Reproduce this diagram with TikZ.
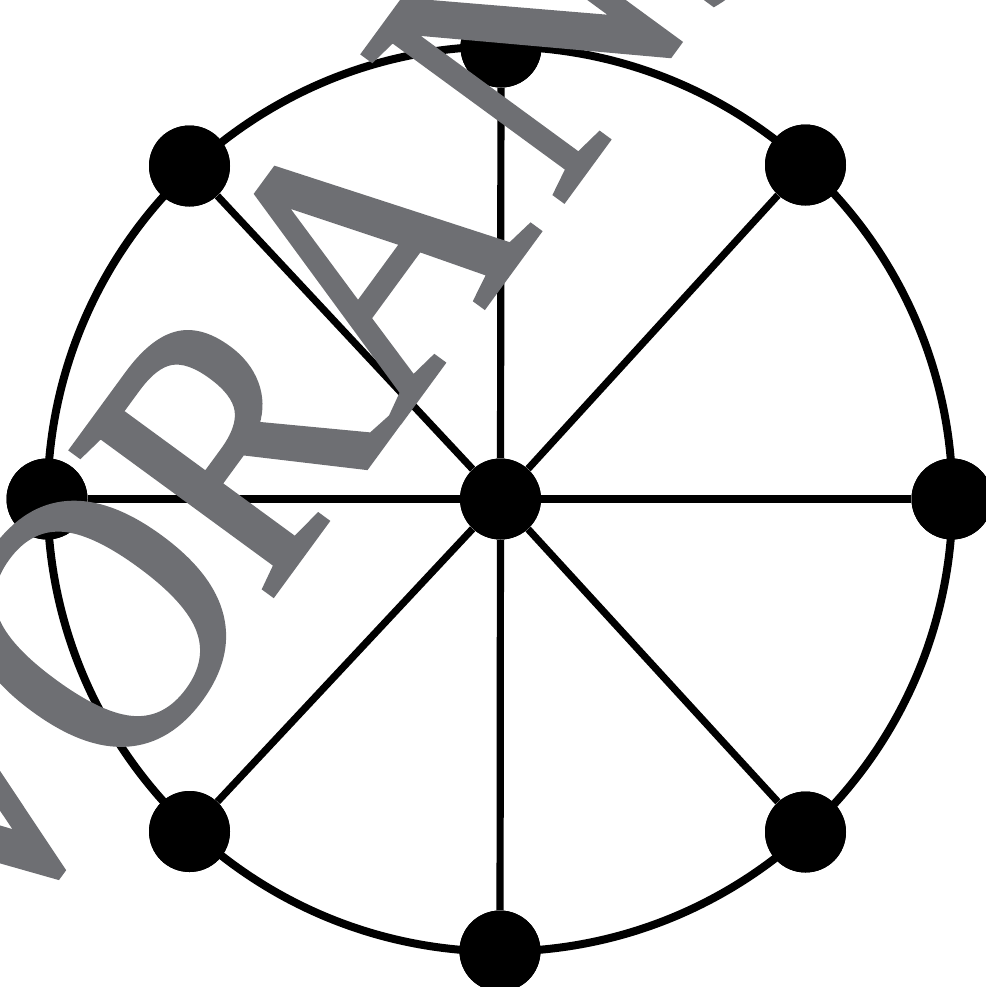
\documentclass[tikz,border=0pt]{standalone}
\usepackage{fontspec}
\newfontfamily\wmfont[FakeStretch=0.88,FakeBold=1.5]{Liberation Serif}
\definecolor{wmgray}{RGB}{110,111,115}
\begin{document}
\begin{tikzpicture}[x=0.5pt,y=-0.5pt,
  vertex/.style={circle,fill=black,inner sep=0pt,minimum size=40.5pt},
  spoke/.style={line width=3.6pt},
  ring/.style={line width=4pt},
  wmletter/.style={text=wmgray,rotate=53.8,anchor=base west,inner sep=0pt,
    font=\wmfont\fontsize{189}{189}\selectfont}]
\useasboundingbox (0,0) rectangle (986,987);
\clip (0,0) rectangle (986,987);
% vertices
\node[vertex] (c)  at (500.5,499) {};
\node[vertex] (n)  at (501,47) {};
\node[vertex] (s)  at (500,951) {};
\node[vertex] (w)  at (47,499) {};
\node[vertex] (e)  at (952,499) {};
\node[vertex] (nw) at (189.5,166) {};
\node[vertex] (ne) at (805.5,165) {};
\node[vertex] (sw) at (189.5,831.5) {};
\node[vertex] (se) at (805.5,832) {};
% spokes
\foreach \v in {n,s,w,e,nw,ne,sw,se} \draw[spoke] (c) -- (\v);
% outer ring
\draw[ring] (500,499) circle[radius=452.5];
% vertices on top of the ring
\foreach \v in {n,s,w,e,nw,ne,sw,se,c}
  \fill (\v.center) circle[radius=40.5];
% watermark
\node[wmletter] (wV) at (-16,968) {V};
\node[wmletter] (wO) at (126,794) {O};
\node[wmletter] (wR) at (266,604) {R};
\node[wmletter] (wA) at (398,424) {A};
\node[wmletter] (wN) at (558,208) {N};
\node[wmletter] (wS) at (708,28) {S};
\end{tikzpicture}
\end{document}
